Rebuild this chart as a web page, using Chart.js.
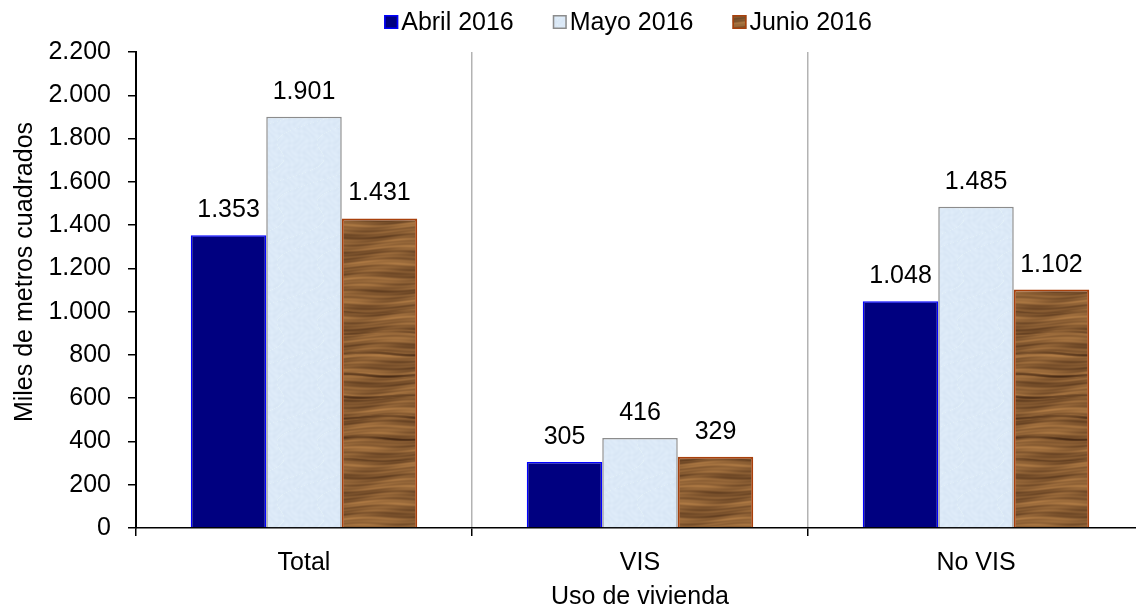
<!DOCTYPE html>
<html>
<head>
<meta charset="utf-8">
<script src="https://cdn.jsdelivr.net/npm/chart.js@4"></script>
<style>
  html, body { margin: 0; padding: 0; background: #fff; overflow: hidden; }
</style>
</head>
<body>
<canvas id="chart" width="1144" height="612"></canvas>
<script>
// Datos del gráfico
const categorias = ['Total', 'VIS', 'No VIS'];
const abril2016 = [1353, 305, 1048];
const mayo2016 = [1901, 416, 1485];
const junio2016 = [1431, 329, 1102];
const series = ['Abril 2016', 'Mayo 2016', 'Junio 2016'];
const yMin = 0, yMax = 2200, yPaso = 200;
const tituloY = 'Miles de metros cuadrados';
const tituloX = 'Uso de vivienda';

const FUENTE = '"Liberation Sans", Arial, sans-serif';

// Formato con punto de miles
const fmt = v => String(v).replace(/\B(?=(\d{3})+(?!\d))/g, '.');

// Textura de madera (Junio), periódica en x e y
function texturaMadera() {
    const w = 96, h = 240;
    const c = document.createElement('canvas');
    c.width = w; c.height = h;
    const g = c.getContext('2d');
    const img = g.createImageData(w, h);
    const TAU = Math.PI * 2;
    for (let y = 0; y < h; y++) {
        for (let x = 0; x < w; x++) {
            const ax = TAU * x / w;
            const ay = TAU * (y + 1.5 * Math.sin(ax + TAU * y * 3 / h)) / h;
            let t = 0.55
                + 0.11 * Math.sin(ay * 13)
                + 0.09 * Math.sin(ay * 31 + 1.7)
                + 0.06 * Math.sin(ay * 71 + ax)
                + 0.08 * Math.sin(ay * 3 + ax * 1)
                + 0.05 * Math.sin(ax * 2 + ay * 19);
            const s = Math.sin(ay * 11 + 0.6) + 0.6 * Math.sin(ay * 23 + 2.1);
            if (s > 1.2) t -= 0.4 * (s - 1.2) / 0.4;
            t = Math.max(0, Math.min(1, t));
            const k = (y * w + x) * 4;
            img.data[k] = 72 + 118 * t;
            img.data[k + 1] = 42 + 92 * t;
            img.data[k + 2] = 20 + 55 * t;
            img.data[k + 3] = 255;
        }
    }
    g.putImageData(img, 0, 0);
    return g.createPattern(c, 'repeat');
}

// Textura azul clara (Mayo)
function texturaMarmol() {
    const w = 80, h = 120;
    const c = document.createElement('canvas');
    c.width = w; c.height = h;
    const g = c.getContext('2d');
    const img = g.createImageData(w, h);
    const TAU = Math.PI * 2;
    for (let y = 0; y < h; y++) {
        for (let x = 0; x < w; x++) {
            const ax = TAU * x / w, ay = TAU * y / h;
            let t = Math.sin(ax * 8 + Math.sin(ay * 5) * 3) * Math.cos(ay * 10 + Math.sin(ax * 4) * 2);
            t = 0.5 + 0.5 * t;
            const vena = Math.abs(Math.sin(ax + ay * 2 + Math.sin(ay * 2) * 1.5)) < 0.03 ? 6 : 0;
            const k = (y * w + x) * 4;
            img.data[k] = 216 + 7 * t + vena;
            img.data[k + 1] = 230 + 6 * t + vena;
            img.data[k + 2] = 245 + 4 * t;
            img.data[k + 3] = 255;
        }
    }
    g.putImageData(img, 0, 0);
    return g.createPattern(c, 'repeat');
}

// Etiquetas de valor, leyenda y título del eje Y
const extras = {
    id: 'extras',
    afterDatasetsDraw(chart) {
        const ctx = chart.ctx;
        ctx.save();
        ctx.font = '25px ' + FUENTE;
        ctx.fillStyle = '#000';
        ctx.textAlign = 'center';
        ctx.textBaseline = 'alphabetic';
        chart.data.datasets.forEach((ds, i) => {
            chart.getDatasetMeta(i).data.forEach((bar, j) => {
                ctx.fillText(fmt(ds.data[j]), bar.x, bar.y - 18);
            });
        });
        ctx.restore();
    },
    afterDraw(chart) {
        const ctx = chart.ctx;
        const dss = chart.data.datasets;
        ctx.save();
        ctx.font = '25px ' + FUENTE;
        const caja = 14, hueco = 3, sep = 39;
        const anchos = dss.map(d => ctx.measureText(d.label).width);
        const total = anchos.reduce((a, w) => a + caja + hueco + w, 0) + sep * (dss.length - 1);
        let x = 628 - total / 2;
        const yc = 22;
        dss.forEach((d, i) => {
            ctx.fillStyle = d.backgroundColor;
            ctx.fillRect(x, yc - caja / 2, caja, caja);
            ctx.lineWidth = 1.5;
            ctx.strokeStyle = d.borderColor;
            ctx.strokeRect(x + 0.75, yc - caja / 2 + 0.75, caja - 1.5, caja - 1.5);
            ctx.fillStyle = '#000';
            ctx.textAlign = 'left';
            ctx.textBaseline = 'middle';
            ctx.fillText(d.label, x + caja + hueco, yc + 1);
            x += caja + hueco + anchos[i] + sep;
        });
        // título eje Y
        ctx.translate(25, 272);
        ctx.rotate(-Math.PI / 2);
        ctx.textAlign = 'center';
        ctx.textBaseline = 'middle';
        ctx.fillText(tituloY, 0, 0);
        ctx.restore();
    }
};

Chart.defaults.font.family = FUENTE;
Chart.defaults.font.size = 25;
Chart.defaults.color = '#000';

const ctx = document.getElementById('chart').getContext('2d');
new Chart(ctx, {
    type: 'bar',
    data: {
        labels: categorias,
        datasets: [{
            label: series[0],
            data: abril2016,
            backgroundColor: '#000080',
            borderColor: '#0000ff',
            borderWidth: 1.5
        }, {
            label: series[1],
            data: mayo2016,
            backgroundColor: texturaMarmol(),
            borderColor: '#8c8c8c',
            borderWidth: 1.5
        }, {
            label: series[2],
            data: junio2016,
            backgroundColor: texturaMadera(),
            borderColor: '#a8400c',
            borderWidth: 2
        }]
    },
    options: {
        responsive: false,
        animation: false,
        layout: { padding: { top: 52, left: 0, right: 0, bottom: 0 } },
        datasets: {
            bar: { categoryPercentage: 0.674, barPercentage: 1 }
        },
        scales: {
            x: {
                grid: {
                    offset: true,
                    color: '#b3b3b3',
                    lineWidth: 1.5,
                    tickColor: '#000',
                    tickLength: 8
                },
                border: { color: '#000', width: 1.5 },
                ticks: { padding: 12 },
                title: { display: true, text: tituloX, padding: 0 },
                afterFit: s => { s.height = 84; }
            },
            y: {
                min: yMin,
                max: yMax,
                ticks: {
                    stepSize: yPaso,
                    padding: 17,
                    callback: v => fmt(v)
                },
                grid: {
                    drawOnChartArea: false,
                    color: '#000',
                    lineWidth: 1.5,
                    tickLength: 8
                },
                border: { color: '#000', width: 2 },
                afterFit: s => { s.width = 136; }
            }
        },
        plugins: {
            legend: { display: false },
            tooltip: { enabled: false }
        }
    },
    plugins: [extras]
});
</script>
</body>
</html>
